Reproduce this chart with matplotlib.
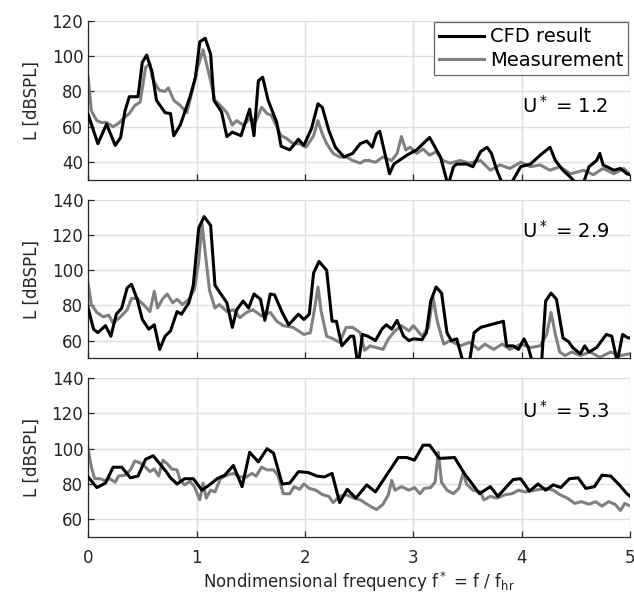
import numpy as np
import matplotlib.pyplot as plt

# ---- data ----
# U* = 1.2
cfd_f_1 = [0, .09, .17, .25, .30, .34, .38, .46, .50, .54, .59, .63, .71, .76, .79, .85, .94, .99,
           1.03, 1.08, 1.13, 1.16, 1.23, 1.28, 1.33, 1.41, 1.49, 1.53, 1.57, 1.61, 1.66, 1.74, 1.78,
           1.86, 1.94, 1.99, 2.06, 2.12, 2.16, 2.22, 2.28, 2.36, 2.44, 2.51, 2.57, 2.62, 2.66, 2.69,
           2.78, 2.82, 2.94, 3.03, 3.15, 3.20, 3.25, 3.32, 3.37, 3.40, 3.49, 3.55, 3.62, 3.68, 3.72,
           3.77, 3.84, 3.91, 3.99, 4.08, 4.17, 4.26, 4.31, 4.38, 4.45, 4.55, 4.62, 4.69, 4.72, 4.75,
           4.85, 4.91, 4.97, 5.0]
cfd_L_1 = [67, 50.5, 61.5, 49.5, 54, 69, 77, 77, 96.5, 100.5, 91, 75, 68, 67.5, 55, 61, 77, 88,
           108, 110, 101, 75, 68.5, 54.5, 57, 55, 70, 55, 86, 88, 75, 62.5, 49,
           47, 53, 49.5, 59, 73, 71, 58, 48.5, 43, 45, 50.5, 52, 48.5, 56, 57.5,
           33.5, 39, 44, 47, 54, 48.5, 43, 27, 37.5, 39, 39, 37.5, 46, 48.5, 45,
           35.5, 25, 29, 37.5, 39, 44, 48.5, 41, 35.5, 31.5, 25, 37.5, 41, 45, 38.5,
           35.5, 36.5, 33.5, 33]
meas_f_1 = [0, .03, .08, .12, .17, .23, .28, .34, .38, .43, .48, .53, .57, .59, .63, .66, .71, .74,
            .79, .85, .91, .97, 1.01, 1.06, 1.10, 1.13, 1.17, 1.22, 1.28, 1.33, 1.37, 1.43, 1.49,
            1.55, 1.60, 1.65, 1.69, 1.74, 1.78, 1.83, 1.89, 1.95, 2.01, 2.08, 2.12, 2.16, 2.20,
            2.26, 2.32, 2.38, 2.44, 2.51, 2.55, 2.59, 2.65, 2.72, 2.80, 2.85, 2.89, 2.93, 2.97,
            3.03, 3.09, 3.15, 3.21, 3.27, 3.34, 3.43, 3.52, 3.62, 3.71, 3.80, 3.89, 3.99, 4.08,
            4.17, 4.26, 4.35, 4.45, 4.57, 4.66, 4.75, 4.85, 4.94, 5.0]
meas_L_1 = [88, 69, 63.5, 62.5, 62.5, 60, 62, 65.5, 67.5, 72, 74, 93.5, 95.5, 88, 83, 80.5, 80, 82,
            75, 72, 68, 82.5, 93.5, 103.5, 93.5, 86, 75, 72, 68, 61, 63.5, 61, 64.5,
            63.5, 71, 67.5, 66.5, 60, 55, 53.5, 50.5, 50.5, 48.5, 55, 63.5, 56, 50.5,
            45, 43, 43, 41, 39.5, 41, 41, 40, 43, 41, 45, 54.5, 47, 48.5,
            45, 47.5, 44, 46, 41, 39.5, 41, 39.5, 41, 35.5, 38.5, 36.5, 40, 37.5,
            38.5, 35.5, 37.5, 33.5, 35.5, 33, 36.5, 33.5, 36.5, 33]

# U* = 2.9
cfd_f_2 = [0, .05, .09, .16, .21, .26, .31, .36, .40, .45, .50, .56, .61, .66, .71, .76, .82, .86,
           .93, .97, 1.02, 1.07, 1.13, 1.17, 1.23, 1.28, 1.33, 1.37, 1.43, 1.48, 1.53, 1.59, 1.63,
           1.68, 1.72, 1.79, 1.85, 1.94, 1.99, 2.04, 2.08, 2.13, 2.20, 2.25, 2.29, 2.34, 2.42, 2.45,
           2.49, 2.53, 2.58, 2.65, 2.71, 2.75, 2.80, 2.85, 2.91, 2.96, 3.00, 3.08, 3.12, 3.16, 3.21,
           3.26, 3.31, 3.35, 3.40, 3.47, 3.51, 3.56, 3.62, 3.83, 3.86, 3.92, 3.97, 4.02, 4.06, 4.11,
           4.18, 4.22, 4.27, 4.32, 4.38, 4.43, 4.47, 4.54, 4.58, 4.62, 4.69, 4.78, 4.83, 4.88, 4.93,
           4.98, 5.0]
cfd_L_2 = [78.5, 66.5, 64.5, 68.5, 62.5, 75, 78.5, 90, 92, 84, 72, 66.5, 69, 55, 62.5, 65.5, 76.5, 75,
           81.5, 91.5, 124, 130.5, 125.5, 91.5, 86, 81.5, 67.5, 77.5, 82.5, 78.5, 86.5, 83.5, 71.5,
           86.5, 86, 76, 69, 75, 72, 75, 98.5, 105, 100, 71, 71, 57, 62.5, 62.5,
           45, 63.5, 62.5, 60, 66.5, 69, 66.5, 71.5, 62.5, 60, 61, 60.5, 64.5, 82.5, 90.5,
           87, 64.5, 60, 61, 45, 45, 64.5, 67.5, 71, 57, 57, 55, 61, 56, 45,
           45, 82.5, 87, 83.5, 61.5, 59.5, 56, 52.5, 57, 53.5, 56, 63.5, 62.5, 48, 63.5,
           61.5, 61.5]
meas_f_2 = [0, .03, .08, .14, .19, .23, .29, .36, .40, .45, .51, .57, .61, .64, .69, .73, .78, .82,
            .87, .93, .98, 1.02, 1.05, 1.08, 1.12, 1.17, 1.21, 1.28, 1.34, 1.40, 1.46, 1.52, 1.60,
            1.68, 1.74, 1.80, 1.89, 1.99, 2.05, 2.09, 2.12, 2.15, 2.20, 2.26, 2.32, 2.38, 2.44,
            2.51, 2.55, 2.60, 2.66, 2.72, 2.77, 2.83, 2.89, 2.96, 3.00, 3.08, 3.14, 3.18, 3.22,
            3.28, 3.34, 3.43, 3.52, 3.60, 3.66, 3.74, 3.82, 3.89, 3.99, 4.08, 4.17, 4.23, 4.27,
            4.31, 4.35, 4.40, 4.46, 4.54, 4.63, 4.72, 4.82, 4.91, 5.0]
meas_L_2 = [92.5, 80.5, 76, 73.5, 74.5, 70, 73, 77.5, 84, 84, 80.5, 76.5, 88, 78.5, 84, 86.5, 81.5, 83.5,
            80.5, 83.5, 89, 105, 127, 110, 88.5, 78.5, 80.5, 76.5, 77.5, 73, 76, 77.5, 74,
            76, 71, 68.5, 67.5, 63.5, 64.5, 78.5, 90.5, 76.5, 62.5, 61, 59, 67.5, 67.5,
            64.5, 54.5, 57, 56, 55, 61, 65.5, 68.5, 65.5, 68.5, 62.5, 67.5, 85, 71,
            58, 60, 57, 59, 55, 58, 55, 58, 55, 58, 56, 57, 63.5, 76,
            63.5, 53.5, 51.5, 53.5, 51.5, 53.5, 50.5, 53.5, 51.5, 52.5]

# U* = 5.3
cfd_f_3 = [0, .08, .16, .23, .31, .39, .46, .53, .60, .66, .72, .76, .82, .89, .97, 1.05, 1.13, 1.19,
           1.26, 1.34, 1.42, 1.49, 1.57, 1.65, 1.71, 1.79, 1.86, 1.94, 2.03, 2.11, 2.18, 2.25, 2.32,
           2.39, 2.47, 2.57, 2.65, 2.86, 2.94, 3.01, 3.09, 3.15, 3.24, 3.38, 3.47, 3.61, 3.71, 3.78,
           3.86, 3.92, 3.99, 4.07, 4.15, 4.22, 4.29, 4.36, 4.44, 4.52, 4.59, 4.67, 4.74, 4.82, 4.90,
           4.97, 5.0]
cfd_L_3 = [84, 78, 80.5, 89.5, 89.5, 83.5, 84.5, 94, 96, 91.5, 87, 83.5, 80, 83, 83, 76.5, 80, 83,
           85, 90.5, 78.5, 98, 92.5, 100, 97.5, 80, 80.5, 87, 86.5, 84.5, 84, 86, 69.5,
           77, 72, 79.5, 75.5, 95, 95, 93.5, 102, 102, 94.5, 95, 86, 74.5, 78.5, 73,
           78.5, 82.5, 83, 76, 80, 76.5, 79.5, 78, 83, 83.5, 77.5, 78.5, 85, 84.5, 79.5,
           74.5, 73]
meas_f_3 = [0, .03, .06, .11, .15, .20, .25, .28, .34, .39, .43, .48, .53, .57, .61, .65, .69, .73,
            .77, .82, .85, .89, .94, .98, 1.03, 1.06, 1.09, 1.13, 1.17, 1.22, 1.28, 1.34, 1.40,
            1.46, 1.51, 1.55, 1.60, 1.65, 1.71, 1.75, 1.80, 1.86, 1.90, 1.95, 1.99, 2.04, 2.10,
            2.16, 2.22, 2.26, 2.32, 2.38, 2.45, 2.51, 2.60, 2.66, 2.72, 2.77, 2.80, 2.83, 2.89,
            2.96, 3.01, 3.06, 3.10, 3.16, 3.20, 3.23, 3.26, 3.31, 3.37, 3.42, 3.46, 3.49, 3.55,
            3.62, 3.65, 3.71, 3.77, 3.85, 3.91, 3.97, 4.03, 4.12, 4.22, 4.29, 4.35, 4.42, 4.49,
            4.55, 4.62, 4.68, 4.74, 4.80, 4.86, 4.91, 4.95, 5.0]
meas_L_3 = [100, 89.5, 83, 83, 82, 83, 81, 84.5, 85, 88, 93, 92, 89.5, 87, 88.5, 84.5, 93.5, 91.5,
            88.5, 88, 82, 79.5, 81.5, 78.5, 71, 80.5, 72, 76.5, 75.5, 83, 85, 86, 84,
            84, 86, 84.5, 89.5, 88, 88, 85, 74.5, 74.5, 78.5, 77, 80, 77.5, 76.5,
            74, 73, 69.5, 73, 74, 72, 71, 67.5, 65.5, 68.5, 74, 82, 76.5, 78.5,
            76.5, 78, 74.5, 77.5, 78, 81, 98, 81, 76.5, 74.5, 77.5, 86.5, 80, 76.5,
            75.5, 71, 73, 72, 74, 74.5, 76.5, 75.5, 76.5, 77.5, 76.5, 74, 72, 69,
            70, 68.5, 70, 67.5, 70, 68.5, 65, 69, 67.5]

panels = [
    (cfd_f_1, cfd_L_1, meas_f_1, meas_L_1, (30, 120), [40, 60, 80, 100, 120], "U$^*$ = 1.2", 0.42),
    (cfd_f_2, cfd_L_2, meas_f_2, meas_L_2, (50, 140), [60, 80, 100, 120, 140], "U$^*$ = 2.9", 0.76),
    (cfd_f_3, cfd_L_3, meas_f_3, meas_L_3, (50, 140), [60, 80, 100, 120, 140], "U$^*$ = 5.3", 0.75),
]

plt.rcParams['font.family'] = 'DejaVu Sans'
plt.rcParams['mathtext.default'] = 'regular'

fig = plt.figure(figsize=(6.34, 6.04), dpi=100)
boxes = [[0.139, 0.702, 0.855, 0.264],
         [0.139, 0.407, 0.855, 0.262],
         [0.139, 0.111, 0.855, 0.263]]

dark = '#262626'
for i, (cf, cl, mf, ml, ylim, yt, lab, ty) in enumerate(panels):
    ax = fig.add_axes(boxes[i])
    ax.plot(cf, cl, color='black', lw=2.2, label='CFD result', zorder=3)
    ax.plot(mf, ml, color='#808080', lw=2.2, label='Measurement', zorder=2)
    ax.set_xlim(0, 5)
    ax.set_ylim(*ylim)
    ax.set_yticks(yt)
    ax.set_xticks([0, 1, 2, 3, 4, 5])
    ax.grid(True, color='#dedede', lw=1)
    ax.set_axisbelow(True)
    for s in ['top', 'right']:
        ax.spines[s].set_visible(False)
    for s in ['left', 'bottom']:
        ax.spines[s].set_color(dark)
        ax.spines[s].set_linewidth(0.9)
    ax.tick_params(direction='in', length=4, width=0.9, color=dark,
                   labelcolor=dark, labelsize=12)
    ax.tick_params(axis='x', pad=9)
    ax.set_ylabel('L [dBSPL]', fontsize=12, color=dark, labelpad=8)
    ax.text(0.80, ty, lab, transform=ax.transAxes, fontsize=14, color='black')
    if i < 2:
        ax.tick_params(labelbottom=False)
    else:
        ax.set_xlabel('Nondimensional frequency f$^*$ = f / f$_{hr}$', fontsize=12,
                      color=dark, labelpad=2)
    if i == 0:
        leg = ax.legend(loc='upper right', fontsize=14, frameon=True,
                        fancybox=False, edgecolor='#404040', borderaxespad=0.1,
                        handlelength=2.3, handletextpad=0.3, labelspacing=0.25,
                        borderpad=0.25)
        leg.get_frame().set_linewidth(0.9)

fig.align_ylabels()
plt.savefig("out.png", dpi=100)
